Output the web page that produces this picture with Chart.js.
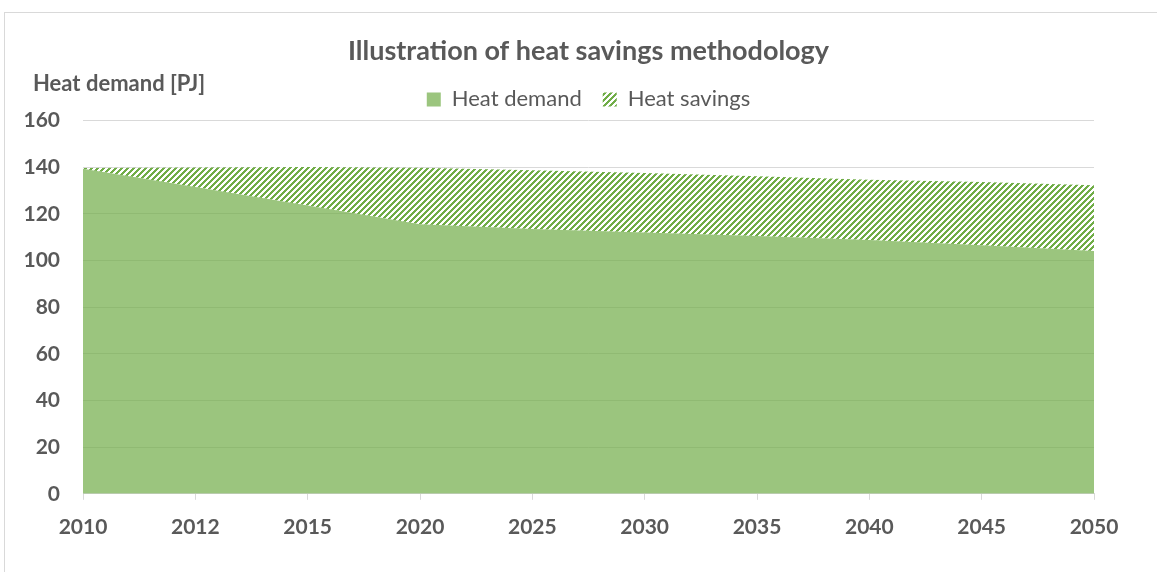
<!DOCTYPE html>
<html>
<head>
<meta charset="utf-8">
<script src="https://cdn.jsdelivr.net/npm/chart.js@4"></script>
<style>
    html, body { margin: 0; padding: 0; background: #fff; }
    #wrap { position: relative; width: 1157px; height: 572px; overflow: hidden; }
    #frame { position: absolute; left: 4px; top: 12px; width: 1200px; height: 600px;
             border-left: 1px solid #d9d9d9; border-top: 1px solid #d9d9d9; }
    #heatChart { position: absolute; left: 0; top: 0; }
</style>
</head>
<body>
<div id="wrap">
    <div id="frame"></div>
    <canvas id="heatChart" width="1157" height="572"></canvas>
</div>
<script>
const chartTitle = 'Illustration of heat savings methodology';
const yAxisTitle = 'Heat demand [PJ]';
const years = ['2010', '2012', '2015', '2020', '2025', '2030', '2035', '2040', '2045', '2050'];
const heatDemand = [139.3, 131.5, 123.5, 115.5, 113.5, 112.0, 110.5, 108.7, 106.5, 104.0];
const heatSavings = [0.3, 8.3, 16.5, 24.2, 25.1, 25.5, 25.6, 25.9, 27.1, 28.2];
const yTicks = [0, 20, 40, 60, 80, 100, 120, 140, 160];

const textColor = '#595959';
const gridColor = '#d9d9d9';

// Excel style "wide upward diagonal" fill
function makeHatch() {
    const size = 6;
    const c = document.createElement('canvas');
    c.width = size;
    c.height = size;
    const g = c.getContext('2d');
    const img = g.createImageData(size, size);
    for (let y = 0; y < size; y++) {
        for (let x = 0; x < size; x++) {
            const i = (y * size + x) * 4;
            const on = ((x + y) % size) < 3;
            img.data[i] = on ? 112 : 255;
            img.data[i + 1] = on ? 173 : 255;
            img.data[i + 2] = on ? 71 : 255;
            img.data[i + 3] = 255;
        }
    }
    g.putImageData(img, 0, 0);
    return g.createPattern(c, 'repeat');
}

// horizontal axis title above the y ticks
const axisTitle = {
    id: 'axisTitle',
    afterDraw(chart) {
        const ctx = chart.ctx;
        ctx.save();
        ctx.font = 'bold 22px Lato';
        ctx.fillStyle = textColor;
        ctx.textBaseline = 'middle';
        ctx.textAlign = 'left';
        ctx.fillText(yAxisTitle, chart.chartArea.left - 50, chart.chartArea.top - 36);
        ctx.restore();
    }
};

document.addEventListener('DOMContentLoaded', function () {
    const ctx = document.getElementById('heatChart').getContext('2d');
    new Chart(ctx, {
        type: 'line',
        data: {
            labels: years,
            datasets: [
                {
                    label: 'Heat demand',
                    data: heatDemand,
                    backgroundColor: 'rgba(112, 173, 71, 0.7)',
                    borderWidth: 0,
                    pointRadius: 0,
                    fill: 'origin'
                },
                {
                    label: 'Heat savings',
                    data: heatSavings,
                    backgroundColor: makeHatch(),
                    borderWidth: 0,
                    pointRadius: 0,
                    fill: '-1'
                }
            ]
        },
        options: {
            responsive: false,
            animation: false,
            layout: { padding: { top: 35, right: 63, bottom: 17, left: 0 } },
            elements: { line: { tension: 0 } },
            scales: {
                x: {
                    offset: false,
                    grid: { drawOnChartArea: false, tickLength: 6, color: gridColor },
                    border: { color: gridColor },
                    ticks: {
                        color: textColor, padding: 15, maxRotation: 0, autoSkip: false,
                        font: { family: 'Lato', size: 21, weight: 'bold' }
                    }
                },
                y: {
                    stacked: true,
                    min: 0,
                    max: 160,
                    afterFit: scale => { scale.width = 83; },
                    afterBuildTicks: scale => { scale.ticks = yTicks.map(v => ({ value: v })); },
                    grid: { drawTicks: false, color: gridColor },
                    border: { display: false },
                    ticks: {
                        color: textColor, padding: 23,
                        font: { family: 'Lato', size: 21, weight: 'bold' }
                    }
                }
            },
            plugins: {
                title: {
                    display: true,
                    text: chartTitle,
                    fullSize: false,
                    color: textColor,
                    padding: { top: 0, bottom: 0 },
                    font: { family: 'Lato', size: 27, weight: 'bold' }
                },
                legend: {
                    position: 'top',
                    fullSize: false,
                    labels: {
                        color: textColor,
                        boxWidth: 14,
                        boxHeight: 14,
                        padding: 21,
                        font: { family: 'Lato', size: 22 }
                    }
                },
                tooltip: { enabled: false }
            }
        },
        plugins: [axisTitle]
    });
});
</script>
</body>
</html>
